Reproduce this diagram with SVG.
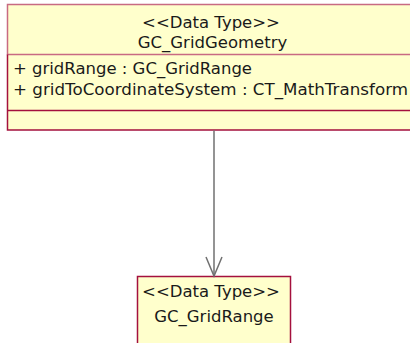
<svg xmlns="http://www.w3.org/2000/svg" width="410" height="343" viewBox="0 0 410 343">
  <style>
    .box { fill: #ffffcc; }
    .edge-light { fill: none; stroke: #c86a82; stroke-width: 1.5; }
    .edge-dark { fill: none; stroke: #a4103e; stroke-width: 1.5; }
    .label { font-family: "DejaVu Sans", Verdana, sans-serif; font-size: 16.5px; fill: #1a1a1a; }
    .mid { text-anchor: middle; }
    .link { fill: none; stroke: #707070; stroke-width: 1.5; }
  </style>

  <!-- GC_GridGeometry data type -->
  <g id="GC_GridGeometry">
    <rect class="box" x="7.5" y="4.5" width="410" height="125.5"/>
    <path class="edge-light" d="M420 4.5 H7.5 V54.5 H420"/>
    <path class="edge-dark" d="M7.5 54.5 V130 H420 M7.5 110.5 H420"/>
    <text class="label mid" x="211" y="28">&lt;&lt;Data Type&gt;&gt;</text>
    <text class="label mid" x="212.5" y="48">GC_GridGeometry</text>
    <text class="label" x="13" y="74" textLength="239" lengthAdjust="spacingAndGlyphs">+ gridRange : GC_GridRange</text>
    <text class="label" x="13" y="95" textLength="395" lengthAdjust="spacingAndGlyphs">+ gridToCoordinateSystem : CT_MathTransform</text>
  </g>

  <!-- GC_GridRange data type -->
  <g id="GC_GridRange">
    <rect class="box" x="137.5" y="276.5" width="153" height="80"/>
    <path class="edge-dark" d="M137.5 350 V276.5 H290.5 V350"/>
    <text class="label mid" x="211" y="297">&lt;&lt;Data Type&gt;&gt;</text>
    <text class="label mid" x="214" y="322">GC_GridRange</text>
  </g>

  <!-- association: gridRange -->
  <g id="connectors">
    <line class="link" x1="214" y1="130.5" x2="214" y2="276"/>
    <path class="link" d="M206 257 L214 276 L222 257"/>
  </g>
</svg>
